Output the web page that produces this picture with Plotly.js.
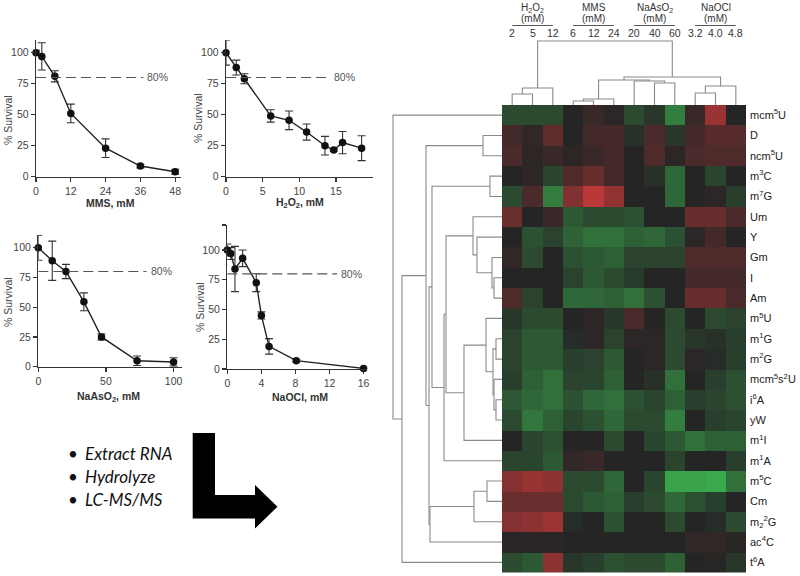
<!DOCTYPE html>
<html><head><meta charset="utf-8">
<script src="https://cdn.plot.ly/plotly-3.0.1.min.js"></script>
<style>html,body{margin:0;padding:0;background:#fff}#chart{width:800px;height:576px}</style>
</head><body><div id="chart"></div>
<script>
// ---------- survival curves ----------
const mmsDose = [0, 2, 6.5, 12, 24, 36, 48];
const mmsSurvival = [100, 97, 81, 51, 23, 8.6, 4];
const mmsError = [2, 11, 4.5, 7.5, 7.5, 1.5, 2];

const h2o2Dose = [0, 1.4, 2.5, 6.1, 8.6, 11, 13.5, 14.7, 15.9, 18.5];
const h2o2Survival = [100, 88, 79, 49, 45.5, 36, 25, 21.5, 27.5, 23];
const h2o2Error = [10, 6, 4, 5, 7.5, 6.5, 7.5, 1, 9, 10];

const nasDose = [0, 10.3, 20.4, 33.7, 46.7, 73, 100];
const nasSurvival = [100, 89, 80, 54.5, 25, 5, 4];
const nasError = [10.5, 16.5, 6, 7.5, 2.5, 4, 3.5];

const naoclDose = [0, 0.4, 0.9, 1.8, 3.4, 4.0, 4.9, 8.1, 16];
const naoclSurvival = [100, 97, 84, 93, 72.5, 45, 19, 7, 0.5];
const naoclError = [5, 5, 19, 7, 7.5, 3, 6.5, 1, 0.5];

const thresholdLevel = 80;

// ---------- heatmap ----------
const colGroups = ['H2O2','H2O2','H2O2','MMS','MMS','MMS','NaAsO2','NaAsO2','NaAsO2','NaOCl','NaOCl','NaOCl'];
const colDoses = ['2','5','12','6','12','24','20','40','60','3.2','4.0','4.8'];
const groupTitles = ['H<sub>2</sub>O<sub>2</sub>','MMS','NaAsO<sub>2</sub>','NaOCl'];
const groupUnits = ['(mM)','(mM)','(mM)','(mM)'];

const rowKeys = ['mcm5U','D','ncm5U','m3C','m7G','Um','Y','Gm','I','Am','m5U','m1G','m2G','mcm5s2U','i6A','yW','m1I','m1A','m5C','Cm','m22G','ac4C','t6A'];
const rowLabels = ['mcm<sup>5</sup>U','D','ncm<sup>5</sup>U','m<sup>3</sup>C','m<sup>7</sup>G','Um','Y','Gm','I','Am',
  'm<sup>5</sup>U','m<sup>1</sup>G','m<sup>2</sup>G','mcm<sup>5</sup>s<sup>2</sup>U','i<sup>6</sup>A','yW','m<sup>1</sup>I','m<sup>1</sup>A',
  'm<sup>5</sup>C','Cm','m<sub>2</sub><sup>2</sup>G','ac<sup>4</sup>C','t<sup>6</sup>A'];

const heatValues = [
  [-0.25,-0.25,-0.25, 0.0, 0.12, 0.05,-0.25,-0.12,-0.6, 0.12, 0.7, 0.0],
  [ 0.18, 0.08, 0.35, 0.0, 0.18, 0.18,-0.08, 0.22,-0.12, 0.18, 0.3, 0.3],
  [ 0.22, 0.05, 0.12, 0.05, 0.12, 0.18, 0.0, 0.25, 0.05, 0.22, 0.25, 0.25],
  [ 0.0, 0.05,-0.22, 0.25, 0.4, 0.18, 0.0,-0.08,-0.45, 0.0,-0.22, 0.0],
  [-0.25, 0.22,-0.6, 0.55, 0.9, 0.65, 0.0, 0.0,-0.45, 0.0, 0.05,-0.18],
  [ 0.42, 0.0, 0.12,-0.35,-0.25,-0.25,-0.3, 0.0, 0.0, 0.4, 0.4, 0.22],
  [ 0.0,-0.3,-0.2,-0.42,-0.5,-0.5,-0.4,-0.45,-0.3, 0.05, 0.18, 0.0],
  [ 0.08,-0.25, 0.0,-0.3,-0.35,-0.4,-0.2,-0.2,-0.2, 0.25, 0.25, 0.25],
  [ 0.0, 0.0, 0.0,-0.2,-0.35,-0.25,-0.15, 0.0, 0.0, 0.18, 0.18, 0.18],
  [ 0.25,-0.2, 0.0,-0.45,-0.45,-0.4,-0.5,-0.3, 0.0, 0.4, 0.4, 0.22],
  [-0.12,-0.25,-0.25, 0.0, 0.05,-0.12, 0.22, 0.0,-0.25, 0.0,-0.25,-0.2],
  [-0.2,-0.35,-0.35,-0.05, 0.05,-0.2, 0.05, 0.05,-0.25,-0.12,-0.08,-0.18],
  [-0.2,-0.35,-0.35,-0.18,-0.2,-0.35, 0.0, 0.05,-0.25, 0.05,-0.05,-0.18],
  [-0.18,-0.4,-0.5,-0.2,-0.22,-0.4, 0.0,-0.08,-0.5, 0.0,-0.18,-0.3],
  [-0.35,-0.45,-0.5,-0.3,-0.45,-0.5,-0.3,-0.22,-0.4,-0.18,-0.22,-0.3],
  [-0.25,-0.55,-0.4,-0.22,-0.3,-0.45,-0.25,-0.25,-0.6, 0.0,-0.18,-0.22],
  [ 0.0,-0.22,-0.3, 0.0, 0.0,-0.25, 0.0,-0.22,-0.35,-0.5,-0.4,-0.4],
  [-0.22,-0.22,-0.35, 0.08, 0.12, 0.0, 0.0, 0.0,-0.22, 0.0, 0.0,-0.18],
  [ 0.58, 0.68, 0.62,-0.25,-0.25,-0.45, 0.0,-0.22,-0.85,-0.85,-0.9,-0.5],
  [ 0.42, 0.42, 0.42,-0.25,-0.35,-0.4,-0.18,-0.25,-0.45,-0.3,-0.18, 0.0],
  [ 0.58, 0.62, 0.72,-0.05, 0.0,-0.3, 0.0, 0.0,-0.25, 0.0,-0.05,-0.25],
  [ 0.03, 0.03, 0.03, 0.0, 0.0, 0.0, 0.0, 0.0, 0.0, 0.08, 0.08, 0.03],
  [-0.25,-0.35, 0.62,-0.12,-0.18,-0.3,-0.25,-0.25,-0.4, 0.0, 0.02,-0.12]
];

// hierarchical clustering merges: [childA, childB, distance]; 'k#' = result of merge #
const rowMerges = [
  ['D','ncm5U',0.19], ['m3C','m7G',0.12], ['I','Am',0.08], ['Gm','k2',0.10],
  ['Y','k3',0.25], ['Um','k4',0.29], ['m1G','m2G',0.06], ['i6A','yW',0.06],
  ['mcm5s2U','k7',0.08], ['k6','k8',0.09], ['m5U','k9',0.16], ['k10','m1I',0.38],
  ['k5','k11',0.56], ['k12','m1A',0.58], ['k1','k13',0.70], ['m5C','Cm',0.15],
  ['k15','m22G',0.28], ['k16','ac4C',0.72], ['k14','k17',0.73], ['k0','k18',0.76],
  ['k19','t6A',1.00], ['mcm5U','k20',1.09]
];
const colMerges = [
  ['H2O2 2','H2O2 5',0.11], ['k0','H2O2 12',0.17], ['MMS 6','MMS 12',0.04], ['k2','MMS 24',0.06],
  ['NaAsO2 40','NaAsO2 60',0.22], ['NaAsO2 20','k4',0.24], ['k3','k5',0.25],
  ['NaOCl 3.2','NaOCl 4.0',0.12], ['k7','NaOCl 4.8',0.19], ['k6','k8',0.28], ['k1','k9',0.64]
];

const bulletSteps = ['Extract RNA','Hydrolyze','LC-MS/MS'];

// ---------- helpers ----------
const W = 800, H = 576;
const X = p => p / W;
const Y = p => 1 - p / H;
const FONT = 'Arial, Liberation Sans, sans-serif';

function dendro(leaves, merges) {
  const pos = {}, hgt = {};
  leaves.forEach((n, i) => { pos[n] = i; hgt[n] = 0; });
  const h = [], p = [];
  merges.forEach((m, i) => {
    const [a, b, d] = m;
    h.push(hgt[a], d, d, hgt[b], null);
    p.push(pos[a], pos[a], pos[b], pos[b], null);
    pos['k' + i] = (pos[a] + pos[b]) / 2; hgt['k' + i] = d;
  });
  return {h, p};
}

const colKeys = colGroups.map((g, i) => g + ' ' + colDoses[i]);
const rowTree = dendro(rowKeys, rowMerges);
const colTree = dendro(colKeys, colMerges);

// ---------- traces ----------
function survTrace(x, y, err, xa, ya) {
  return {type:'scatter', mode:'lines+markers', x, y, xaxis:xa, yaxis:ya, cliponaxis:false,
    line:{color:'#222', width:1.4}, marker:{size:7.5, color:'#111'},
    error_y:{type:'data', array:err, visible:true, color:'#333', thickness:1.1, width:4},
    hoverinfo:'skip', showlegend:false};
}
const traces = [
  survTrace(mmsDose, mmsSurvival, mmsError, 'x', 'y'),
  survTrace(h2o2Dose, h2o2Survival, h2o2Error, 'x2', 'y2'),
  survTrace(nasDose, nasSurvival, nasError, 'x3', 'y3'),
  survTrace(naoclDose, naoclSurvival, naoclError, 'x4', 'y4'),
  {type:'heatmap', z:heatValues, x:colKeys.map((_, i) => i), y:rowKeys.map((_, i) => i),
   xaxis:'x5', yaxis:'y5', zmin:-1, zmax:1, showscale:false, hoverinfo:'skip',
   colorscale:[[0,'#3cb850'],[0.5,'#252525'],[1,'#cc3a3a']]},
  {type:'scatter', mode:'lines', x:rowTree.h, y:rowTree.p, xaxis:'x6', yaxis:'y6',
   line:{color:'#8a8a8a', width:1.1}, hoverinfo:'skip', showlegend:false, cliponaxis:false},
  {type:'scatter', mode:'lines', x:colTree.p, y:colTree.h, xaxis:'x7', yaxis:'y7',
   line:{color:'#8a8a8a', width:1.1}, hoverinfo:'skip', showlegend:false, cliponaxis:false}
];

// ---------- layout ----------
const tickFont = {family:FONT, size:10.5, color:'#444'};
function sx(d, range, tv, anchor) {
  return {domain:d, range, tickvals:tv, showline:true, linecolor:'#333', linewidth:1.3, ticks:'outside',
    ticklen:4, tickwidth:1.2, tickcolor:'#333', showgrid:false, zeroline:false, tickfont:tickFont, anchor, fixedrange:true};
}
const panels = [
  {xd:[36,181], xr:[0,50], xt:[0,12,24,36,48], yb:176.7, yt:40.3, yr:[0,110], yt2:[0,25,50,75,100], yl:['0','25','50','75','100'], dashEnd:37},
  {xd:[226,372.6], xr:[0,20], xt:[0,5,10,15], yb:176.7, yt:40.3, yr:[0,110], yt2:[0,25,50,75,100], yl:['0','25','50','75','100'], dashEnd:14.2},
  {xd:[38.3,181.7], xr:[0,106], xt:[0,50,100], yb:366.7, yt:234.6, yr:[0,111], yt2:[0,25,50,75,100], yl:['0','25','50','75','100'], dashEnd:80},
  {xd:[227.3,367], xr:[0,16.4], xt:[0,4,8,12,16], yb:369, yt:225, yr:[0,121], yt2:[0,25,50,75,100,121], yl:['0','25','50','75','100',''], dashEnd:12.9}
];
const layout = {width:W, height:H, margin:{l:0,r:0,t:0,b:0}, paper_bgcolor:'#fff', plot_bgcolor:'rgba(0,0,0,0)',
  showlegend:false, font:{family:FONT, size:11}, annotations:[], shapes:[]};
panels.forEach((p, i) => {
  const n = i === 0 ? '' : String(i + 1);
  layout['xaxis' + n] = sx([X(p.xd[0]), X(p.xd[1])], p.xr, p.xt, 'y' + n);
  const ya = sx([Y(p.yb), Y(p.yt)], p.yr, p.yt2, 'x' + n);
  ya.ticktext = p.yl;
  layout['yaxis' + n] = ya;
  layout.shapes.push({type:'line', xref:'x' + n, yref:'y' + n, x0:0, x1:p.dashEnd, y0:thresholdLevel, y1:thresholdLevel,
    line:{color:'#555', width:1.2, dash:'10px,5px'}});
  layout.annotations.push({xref:'x' + n, yref:'y' + n, x:p.dashEnd, y:thresholdLevel, xanchor:'left', yanchor:'middle',
    xshift:2, text:'80%', showarrow:false, font:{family:FONT, size:10.5, color:'#555'}});
});
const xTitles = [['MMS, mM',110,203],['H<sub>2</sub>O<sub>2</sub>, mM',300,203],['NaAsO<sub>2</sub>, mM',108,397],['NaOCl, mM',300,397]];
xTitles.forEach(t => layout.annotations.push({xref:'paper', yref:'paper', x:X(t[1]), y:Y(t[2]), text:'<b>' + t[0] + '</b>',
  showarrow:false, xanchor:'center', yanchor:'middle', font:{family:FONT, size:10.5, color:'#333'}}));
const yTitles = [[8,120],[198,118],[8,302],[200,307]];
yTitles.forEach(t => layout.annotations.push({xref:'paper', yref:'paper', x:X(t[0]), y:Y(t[1]), text:'% Survival',
  textangle:-90, showarrow:false, xanchor:'center', yanchor:'middle', font:{family:FONT, size:10.5, color:'#444'}}));

// heatmap axes
layout.xaxis5 = {domain:[X(502), X(746)], range:[-0.5, 11.5], showticklabels:false, ticks:'', showgrid:false, zeroline:false, showline:false, anchor:'y5', fixedrange:true};
layout.yaxis5 = {domain:[Y(572.5), Y(105)], range:[rowKeys.length - 0.5, -0.5], side:'right', tickvals:rowKeys.map((_, i) => i),
  ticktext:rowLabels, ticks:'', showgrid:false, zeroline:false, showline:false, anchor:'x5', ticklabelstandoff:3,
  tickfont:{family:FONT, size:11, color:'#222'}, fixedrange:true};
layout.xaxis6 = {domain:[X(390), X(502)], range:[1.12, 0], visible:false, anchor:'y6', fixedrange:true};
layout.yaxis6 = {domain:[Y(572.5), Y(105)], range:[rowKeys.length - 0.5, -0.5], visible:false, anchor:'x6', fixedrange:true};
layout.xaxis7 = {domain:[X(502), X(746)], range:[-0.5, 11.5], visible:false, anchor:'y7', fixedrange:true};
layout.yaxis7 = {domain:[Y(105), Y(40)], range:[0, 0.65], visible:false, anchor:'x7', fixedrange:true};

// column header: doses, group names, underlines
colDoses.forEach((d, i) => layout.annotations.push({xref:'x5', yref:'paper', x:i, y:Y(33), text:d, showarrow:false,
  xanchor:'center', yanchor:'middle', font:{family:FONT, size:10.5, color:'#333'}}));
groupTitles.forEach((g, gi) => {
  const idx = colGroups.map((c, i) => i).filter(i => colGroups[i] === colGroups[gi * 3]);
  const first = idx[0], last = idx[idx.length - 1], mid = (first + last) / 2;
  layout.annotations.push({xref:'x5', yref:'paper', x:mid, y:Y(8), text:g, showarrow:false, xanchor:'center', yanchor:'middle',
    font:{family:FONT, size:10, color:'#333'}});
  layout.annotations.push({xref:'x5', yref:'paper', x:mid, y:Y(18.5), text:groupUnits[gi], showarrow:false, xanchor:'center', yanchor:'middle',
    font:{family:FONT, size:10, color:'#333'}});
  layout.shapes.push({type:'line', xref:'x5', yref:'paper', x0:first, x1:last, y0:Y(25.5), y1:Y(25.5), line:{color:'#555', width:1}});
});

// bullet list
bulletSteps.forEach((s, i) => {
  const yy = 453 + i * 23;
  layout.annotations.push({xref:'paper', yref:'paper', x:X(73), y:Y(yy), text:'•', showarrow:false, xanchor:'center', yanchor:'middle',
    font:{family:'Lato, sans-serif', size:17, color:'#111'}});
  layout.annotations.push({xref:'paper', yref:'paper', x:X(83), y:Y(yy), text:'<i>' + s + '</i>', showarrow:false, xanchor:'left', yanchor:'middle',
    font:{family:'Lato, sans-serif', size:17, color:'#111'}});
});

// L-shaped arrow
const arrowPts = [[192.7,433],[215,433],[215,495],[255,495],[255,485],[277.5,506.7],[255,528.5],[255,518.5],[192.7,518.5]];
layout.shapes.push({type:'path', xref:'paper', yref:'paper',
  path:'M' + arrowPts.map(q => X(q[0]).toFixed(5) + ',' + Y(q[1]).toFixed(5)).join(' L') + ' Z',
  fillcolor:'#000', line:{width:0}});

Plotly.newPlot('chart', traces, layout, {displayModeBar:false, staticPlot:true});
</script>
</body></html>
